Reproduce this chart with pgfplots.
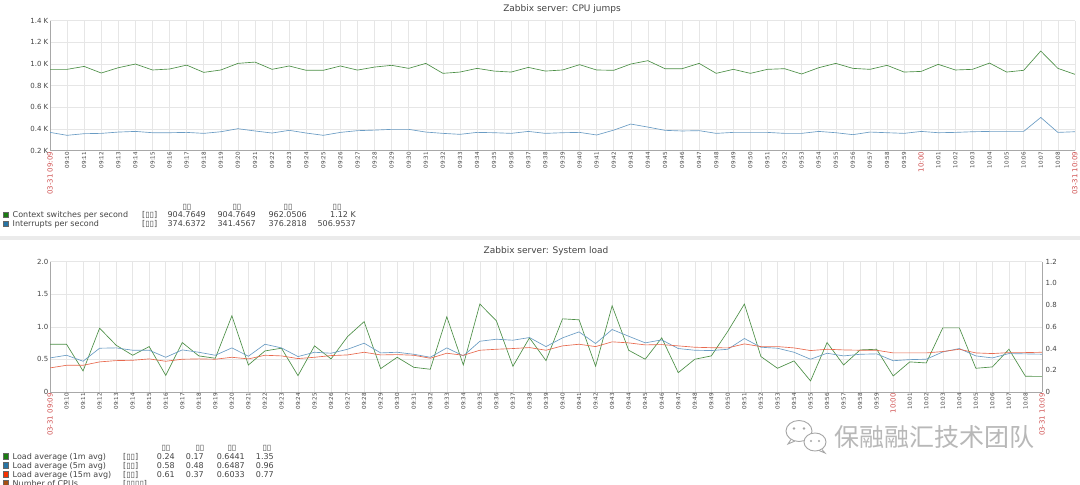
\documentclass[border=0pt]{standalone}
\usepackage{pgfplots}
\usepackage{pgfplotstable}
\pgfplotsset{compat=1.18}
\usepackage{fontspec}
\setmainfont{DejaVu Sans}
\newfontfamily\cjk{Noto Sans CJK SC}
\definecolor{zgreen}{HTML}{1A7C11}
\definecolor{zblue}{HTML}{2774A4}
\definecolor{zred}{HTML}{F63100}
\definecolor{zbrown}{HTML}{A54F10}
\definecolor{lgreen}{HTML}{4C8F46}
\definecolor{lblue}{HTML}{6A9CC4}
\definecolor{lred}{HTML}{E8694E}
\definecolor{datered}{HTML}{D05050}
\definecolor{gridc}{HTML}{E6E6E6}
\definecolor{axc}{HTML}{A8A8A8}
\definecolor{txt}{HTML}{444444}
\newcommand\rl[1]{{\color{datered}\fontsize{7}{8}\selectfont #1}}
\newcommand\lgf{\fontsize{8}{9}\selectfont}

\pgfplotstableread{
x g b
0 0.951 0.369
1 0.951 0.342
2 0.978 0.357
3 0.917 0.360
4 0.966 0.372
5 1.000 0.378
6 0.945 0.366
7 0.954 0.366
8 0.990 0.369
9 0.923 0.360
10 0.945 0.375
11 1.006 0.403
12 1.018 0.382
13 0.951 0.363
14 0.982 0.388
15 0.942 0.363
16 0.942 0.342
17 0.982 0.369
18 0.944 0.385
19 0.972 0.390
20 0.988 0.397
21 0.960 0.397
22 1.006 0.372
23 0.914 0.360
24 0.926 0.351
25 0.960 0.369
26 0.935 0.366
27 0.926 0.360
28 0.969 0.378
29 0.935 0.360
30 0.945 0.366
31 0.994 0.369
32 0.945 0.345
33 0.942 0.390
34 1.000 0.446
35 1.031 0.418
36 0.957 0.388
37 0.957 0.382
38 1.006 0.385
39 0.914 0.360
40 0.951 0.369
41 0.914 0.369
42 0.951 0.369
43 0.957 0.360
44 0.908 0.360
45 0.966 0.378
46 1.006 0.366
47 0.960 0.348
48 0.951 0.372
49 0.988 0.366
50 0.926 0.360
51 0.932 0.378
52 0.997 0.366
53 0.945 0.369
54 0.951 0.375
55 1.009 0.378
56 0.926 0.378
57 0.942 0.378
58 1.120 0.507
59 0.960 0.369
60 0.905 0.375
}\cpudata

\pgfplotstableread{
x g b r
0 0.733 0.523 0.370
1 0.733 0.564 0.410
2 0.323 0.472 0.410
3 0.980 0.672 0.462
4 0.718 0.677 0.482
5 0.564 0.641 0.487
6 0.697 0.641 0.508
7 0.256 0.533 0.472
8 0.759 0.646 0.503
9 0.554 0.610 0.508
10 0.518 0.564 0.503
11 1.169 0.677 0.533
12 0.415 0.549 0.508
13 0.630 0.733 0.564
14 0.672 0.677 0.554
15 0.251 0.544 0.513
16 0.708 0.610 0.533
17 0.508 0.595 0.559
18 0.851 0.656 0.569
19 1.080 0.749 0.610
20 0.359 0.600 0.569
21 0.533 0.610 0.574
22 0.379 0.579 0.564
23 0.349 0.533 0.518
24 1.154 0.677 0.595
25 0.415 0.554 0.564
26 1.350 0.779 0.641
27 1.092 0.810 0.656
28 0.395 0.795 0.667
29 0.831 0.836 0.682
30 0.482 0.697 0.641
31 1.123 0.831 0.708
32 1.108 0.923 0.733
33 0.395 0.744 0.697
34 1.323 0.959 0.770
35 0.641 0.856 0.754
36 0.503 0.754 0.723
37 0.831 0.800 0.728
38 0.297 0.667 0.708
39 0.503 0.641 0.687
40 0.554 0.636 0.680
41 0.933 0.656 0.677
42 1.350 0.821 0.738
43 0.544 0.687 0.697
44 0.364 0.672 0.697
45 0.477 0.610 0.677
46 0.170 0.503 0.636
47 0.759 0.595 0.656
48 0.415 0.554 0.646
49 0.646 0.579 0.641
50 0.656 0.585 0.641
51 0.246 0.480 0.600
52 0.462 0.497 0.600
53 0.446 0.503 0.600
54 0.985 0.615 0.621
55 0.985 0.667 0.656
56 0.364 0.554 0.600
57 0.385 0.523 0.590
58 0.656 0.590 0.605
59 0.241 0.585 0.605
60 0.240 0.580 0.610
}\loaddata

\pgfplotsset{
 zbx/.style={
  scale only axis,
  xmin=0, xmax=60, xtick={0,...,60},
  xticklabels={\rl{03-31 09:09},09:10,09:11,09:12,09:13,09:14,09:15,09:16,09:17,09:18,09:19,
   09:20,09:21,09:22,09:23,09:24,09:25,09:26,09:27,09:28,09:29,
   09:30,09:31,09:32,09:33,09:34,09:35,09:36,09:37,09:38,09:39,
   09:40,09:41,09:42,09:43,09:44,09:45,09:46,09:47,09:48,09:49,
   09:50,09:51,09:52,09:53,09:54,09:55,09:56,09:57,09:58,09:59,
   \rl{10:00},10:01,10:02,10:03,10:04,10:05,10:06,10:07,10:08,\rl{03-31 10:09}},
  x tick label style={rotate=90, anchor=east, font=\fontsize{5.6}{6}\selectfont, text=txt, inner sep=1pt},
  y tick label style={font=\fontsize{7}{8}\selectfont, text=txt, inner sep=1.5pt},
  major tick length=0pt,
  grid=major,
  major grid style={gridc, line width=0.5pt},
  axis x line*=bottom, axis y line*=left,
  axis line style={axc, line width=0.6pt},
  every axis plot/.append style={line width=0.65pt},
 }
}

\begin{document}
\begin{tikzpicture}
\useasboundingbox (0,0) rectangle (1080pt,485pt);
\fill[white] (0,0) rectangle (1080pt,485pt);
% separator band
\fill[black!8] (0pt,244.5pt) rectangle (1080pt,248.5pt);

% ===== top chart =====
\begin{axis}[zbx, at={(50pt,334.3pt)}, anchor=south west, width=1025pt, height=130pt,
  ymin=0.2, ymax=1.4, ytick={0.2,0.4,0.6,0.8,1.0,1.2,1.4},
  yticklabels={0.2 K,0.4 K,0.6 K,0.8 K,1.0 K,1.2 K,1.4 K}]
\addplot[lgreen] table[x=x,y=g]{\cpudata};
\addplot[lblue] table[x=x,y=b]{\cpudata};
\end{axis}

% ===== bottom chart =====
\begin{axis}[zbx, at={(50pt,93pt)}, anchor=south west, width=992pt, height=130.3pt,
  ymin=0, ymax=2, ytick={0,0.5,1,1.5,2},
  yticklabels={0,0.5,1.0,1.5,2.0}]
\addplot[lgreen] table[x=x,y=g]{\loaddata};
\addplot[lblue] table[x=x,y=b]{\loaddata};
\addplot[lred] table[x=x,y=r]{\loaddata};
\end{axis}
\begin{axis}[scale only axis, at={(50pt,93pt)}, anchor=south west, width=992pt, height=130.3pt,
  xmin=0, xmax=60, ymin=0, ymax=1.2, axis x line=none, axis y line*=right,
  ytick={0,0.2,0.4,0.6,0.8,1.0,1.2}, yticklabels={0,0.2,0.4,0.6,0.8,1.0,1.2},
  y tick label style={font=\fontsize{7}{8}\selectfont, text=txt, inner sep=1.5pt, xshift=2pt},
  major tick length=0pt, axis line style={axc, line width=0.6pt}]
\end{axis}

\begin{scope}[x=1pt,y=1pt]
% titles
\node[text=txt, font=\fontsize{9}{10}\selectfont] at (562,476) {Zabbix server: CPU jumps};
\node[text=txt, font=\fontsize{9}{10}\selectfont] at (546,234) {Zabbix server: System load};

\begin{scope}[every node/.style={inner sep=0, text=txt, font=\lgf}]
% top legend
\foreach \cx in {187,237,288,337} \node[anchor=base] at (\cx,275) {▯▯};
\node[anchor=base west] at (12.5,267) {Context switches per second};
\node[anchor=base west] at (142,267) {[▯▯]};
\node[anchor=base east] at (206,267) {904.7649};
\node[anchor=base east] at (256,267) {904.7649};
\node[anchor=base east] at (307,267) {962.0506};
\node[anchor=base east] at (356,267) {1.12 K};
\node[anchor=base west] at (12.5,258) {Interrupts per second};
\node[anchor=base west] at (142,258) {[▯▯]};
\node[anchor=base east] at (206,258) {374.6372};
\node[anchor=base east] at (256,258) {341.4567};
\node[anchor=base east] at (307,258) {376.2818};
\node[anchor=base east] at (356,258) {506.9537};
% bottom legend
\foreach \cx in {166,200,232,267} \node[anchor=base] at (\cx,34) {▯▯};
\node[anchor=base west] at (12.5,25.7) {Load average (1m avg)};
\node[anchor=base west] at (123,25.7) {[▯▯]};
\node[anchor=base east] at (175,25.7) {0.24};
\node[anchor=base east] at (204,25.7) {0.17};
\node[anchor=base east] at (245,25.7) {0.6441};
\node[anchor=base east] at (274,25.7) {1.35};
\node[anchor=base west] at (12.5,16.7) {Load average (5m avg)};
\node[anchor=base west] at (123,16.7) {[▯▯]};
\node[anchor=base east] at (175,16.7) {0.58};
\node[anchor=base east] at (204,16.7) {0.48};
\node[anchor=base east] at (245,16.7) {0.6487};
\node[anchor=base east] at (274,16.7) {0.96};
\node[anchor=base west] at (12.5,7.7) {Load average (15m avg)};
\node[anchor=base west] at (123,7.7) {[▯▯]};
\node[anchor=base east] at (175,7.7) {0.61};
\node[anchor=base east] at (204,7.7) {0.37};
\node[anchor=base east] at (245,7.7) {0.6033};
\node[anchor=base east] at (274,7.7) {0.77};
\node[anchor=base west] at (12.5,-1.3) {Number of CPUs};
\node[anchor=base west] at (123,-1.3) {[▯▯▯▯]};
\end{scope}
\foreach \yy/\cc in {267.7/zgreen,258.7/zblue,26.2/zgreen,17.2/zblue,8.2/zred,-0.8/zbrown}{
  \fill[\cc] (2.7,\yy) rectangle (8.3,\yy+5.6);
  \draw[black!60, line width=0.3pt] (2.7,\yy) rectangle (8.3,\yy+5.6);
}

% watermark
\begin{scope}[draw=black!35, line width=0.9pt]
\draw[fill=white] (799,54) ellipse (13 and 10.5);
\draw (791,45.5) -- (788,41) -- (795,44);
\draw[fill=white] (815,43) ellipse (11 and 9);
\draw (822,35.5) -- (825,32) -- (819,34.5);
\fill[black!35] (794,56.5) circle (1.3) (804,56.5) circle (1.3) (811,44) circle (1.1) (819,44) circle (1.1);
\end{scope}
\node[anchor=west, inner sep=0, text=black!28, font=\cjk\fontsize{25}{25}\selectfont] at (834,48) {保融融汇技术团队};
\end{scope}
\end{tikzpicture}
\end{document}
